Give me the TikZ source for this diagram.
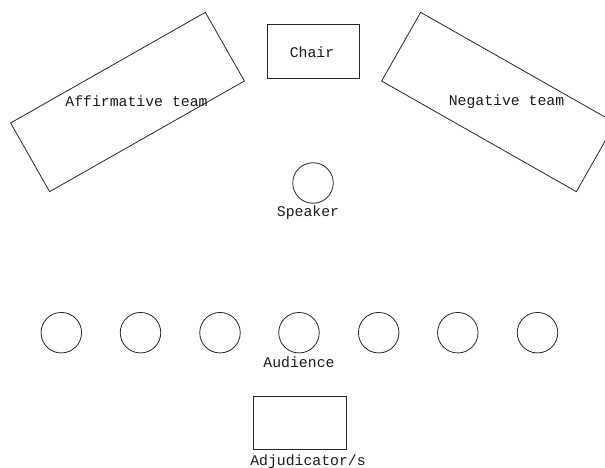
\documentclass[tikz,border=0pt]{standalone}
\usepackage{fontspec}
\setmonofont{Liberation Mono}
\begin{document}
\begin{tikzpicture}[x=1pt,y=-1pt,
  outl/.style={draw=black!85,line width=0.8pt},
  teamtable/.style={outl,rectangle,inner sep=0pt,minimum width=224pt,minimum height=79pt},
  boxy/.style={outl,rectangle,inner sep=0pt},
  seat/.style={outl,circle,inner sep=0pt,minimum size=40.5pt},
  lbl/.style={font=\ttfamily\fontsize{14.8}{16}\selectfont,inner sep=0pt,text=black!90}]
\useasboundingbox (0,0) rectangle (605,468);
\clip (0,0) rectangle (605,468);
% team tables
\node[teamtable,rotate=29.6] (aff) at (127.5,102) {};
\node[teamtable,rotate=-29.6] (neg) at (498.5,102) {};
\node[lbl] (afft) at (136.5,101.5) {Affirmative team};
\node[lbl] (negt) at (506.5,101.5) {Negative team};
% chair
\node[boxy,minimum width=92pt,minimum height=54pt] (chair) at (313,51) {};
\node[lbl] (chairt) at (312,52.5) {Chair};
% speaker
\node[seat] (spk) at (313,183) {};
\node[lbl] (spkt) at (308,213) {Speaker};
% audience
\foreach \i/\x in {1/61.3,2/140.5,3/220,4/299,5/378.7,6/457.8,7/537.5}
  \node[seat] (aud\i) at (\x,332.7) {};
\node[lbl] (audt) at (299,362.5) {Audience};
% adjudicators
\node[boxy,minimum width=93pt,minimum height=53pt] (adj) at (299.5,422.5) {};
\node[lbl] (adjt) at (308,461.5) {Adjudicator/s};
\end{tikzpicture}
\end{document}
